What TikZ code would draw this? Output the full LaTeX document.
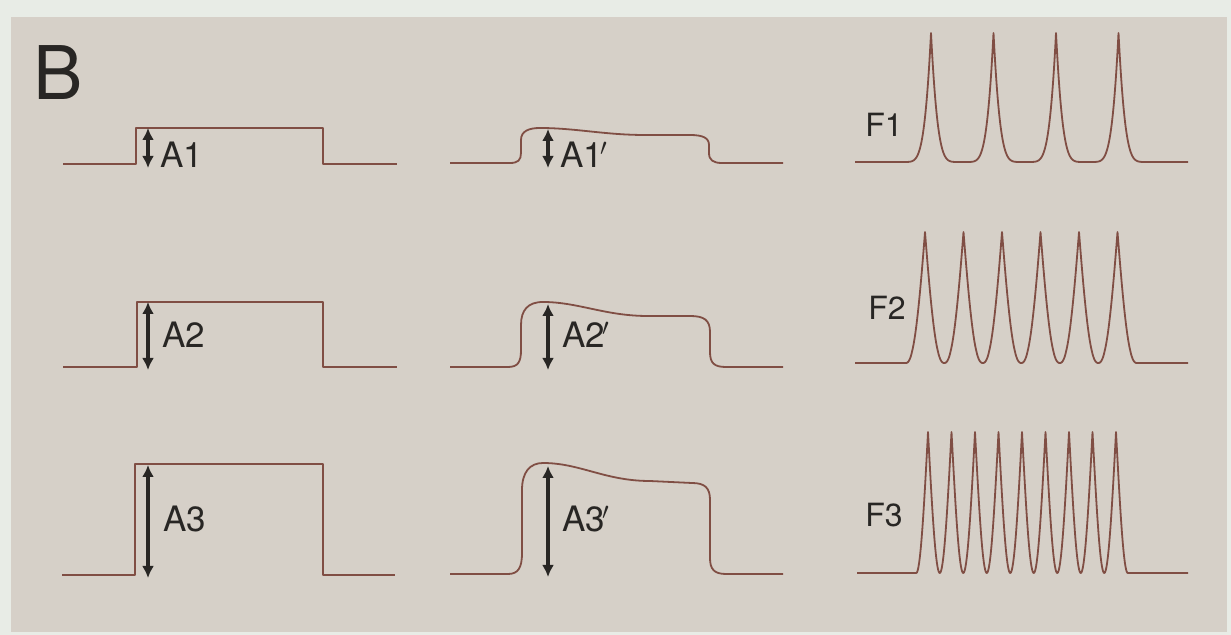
\documentclass[tikz,border=0pt]{standalone}
\usepackage{fontspec}
\setmainfont{TeX Gyre Heros}
\usetikzlibrary{arrows.meta}
\definecolor{paper}{RGB}{232,236,230}
\definecolor{panel}{RGB}{214,208,200}
\definecolor{trace}{RGB}{128,78,68}
\definecolor{ink}{RGB}{40,38,36}

\begin{document}
\begin{tikzpicture}[x=0.5pt, y=-0.5pt,
	wave/.style={draw=trace, line width=0.9pt, line join=round},
	amp/.style={draw=ink, line width=1.8pt, {Latex[length=6pt,width=6pt]}-{Latex[length=6pt,width=6pt]}},
	lbl/.style={anchor=base west, inner sep=0pt, text=ink, font=\fontsize{17.5}{17.5}\selectfont},
	flbl/.style={anchor=base west, inner sep=0pt, text=ink, font=\fontsize{16}{16}\selectfont},
	declare function={pk(\u,\n,\p)=max(0.0001,1-sin(180*min(0.5,abs(\u-min(\n-1,max(0,round(\u)))))))^\p;}]
				\useasboundingbox (0,0) rectangle (1231,635);
				\fill[paper] (0,0) rectangle (1231,635);
				\fill[panel] (11,17) rectangle (1227,632);
				\node[anchor=base west, inner sep=0pt, text=ink, font=\fontsize{37}{37}\selectfont] (B) at (33,100) {B};
				% square pulses
				\draw[wave] (63,164) -- (136,164) -- (136,128) -- (323,128) -- (323,164) -- (397,164);
				\draw[wave] (63,367) -- (137,367) -- (137,302) -- (323,302) -- (323,367) -- (397,367);
				\draw[wave] (62,575) -- (135,575) -- (135,464) -- (323,464) -- (323,575) -- (395,575);
				\coordinate (t1) at (148,128); \coordinate (b1) at (148,168);
				\coordinate (t2) at (148,302); \coordinate (b2) at (148,370);
				\coordinate (t3) at (148,465); \coordinate (b3) at (148,578);
				\draw[amp] (t1) -- (b1);
				\draw[amp] (t2) -- (b2);
				\draw[amp] (t3) -- (b3);
				\node[lbl] (A1) at (160,168) {A1};
				\node[lbl] (A2) at (162,348) {A2};
				\node[lbl] (A3) at (163,532) {A3};
				% smoothed responses
				\draw[wave] (450,163) -- (510,163) .. controls (518,163) and (521,160) .. (521,153) -- (521,140) .. controls (521,131) and (529,128) .. (540,128) .. controls (575,128) and (605,135) .. (645,135) -- (690,135) .. controls (703,135) and (709,138) .. (709,145) -- (709,153) .. controls (709,160) and (713,163) .. (722,163) -- (783,163);
				\draw[wave] (450,367) -- (508,367) .. controls (518,367) and (521,362) .. (521,350) -- (521,325) .. controls (521,310) and (528,302) .. (543,302) .. controls (578,302) and (605,316) .. (648,316) -- (690,316) .. controls (704,316) and (710,320) .. (710,332) -- (710,352) .. controls (710,363) and (714,367) .. (726,367) -- (783,367);
				\draw[wave] (450,574) -- (508,574) .. controls (518,574) and (522,568) .. (522,553) -- (522,490) .. controls (522,472) and (530,463) .. (543,463) .. controls (580,463) and (605,481) .. (650,481) -- (692,483) .. controls (705,483) and (710,488) .. (710,500) -- (710,558) .. controls (710,569) and (714,574) .. (726,574) -- (783,574);
				\coordinate (t1p) at (548,129); \coordinate (b1p) at (548,168);
				\coordinate (t2p) at (548,304); \coordinate (b2p) at (548,370);
				\coordinate (t3p) at (548,466); \coordinate (b3p) at (548,577);
				\draw[amp] (t1p) -- (b1p);
				\draw[amp] (t2p) -- (b2p);
				\draw[amp] (t3p) -- (b3p);
				\node[lbl] (A1p) at (560,168) {A1\kern-1.5pt$^\prime$};
				\node[lbl] (A2p) at (562,348) {A2\kern-1.5pt$^\prime$};
				\node[lbl] (A3p) at (562,532) {A3\kern-1.5pt$^\prime$};
				% spike trains
				\draw[wave] plot[samples at={855,855.5,...,1188}] (\x,{162-129*pk((\x-931)/62.5,4,3)});
				\draw[wave] plot[samples at={855,855.5,...,1188}] (\x,{363-131*pk((\x-925)/38.5,6,1.2)});
				\draw[wave] plot[samples at={857,857.5,...,1188}] (\x,{573-141*pk((\x-928)/23.5,9,1)});
				\node[flbl] (F1) at (865,137) {F1};
				\node[flbl] (F2) at (868,320) {F2};
				\node[flbl] (F3) at (865,527) {F3};
			\end{tikzpicture}
\end{document}
